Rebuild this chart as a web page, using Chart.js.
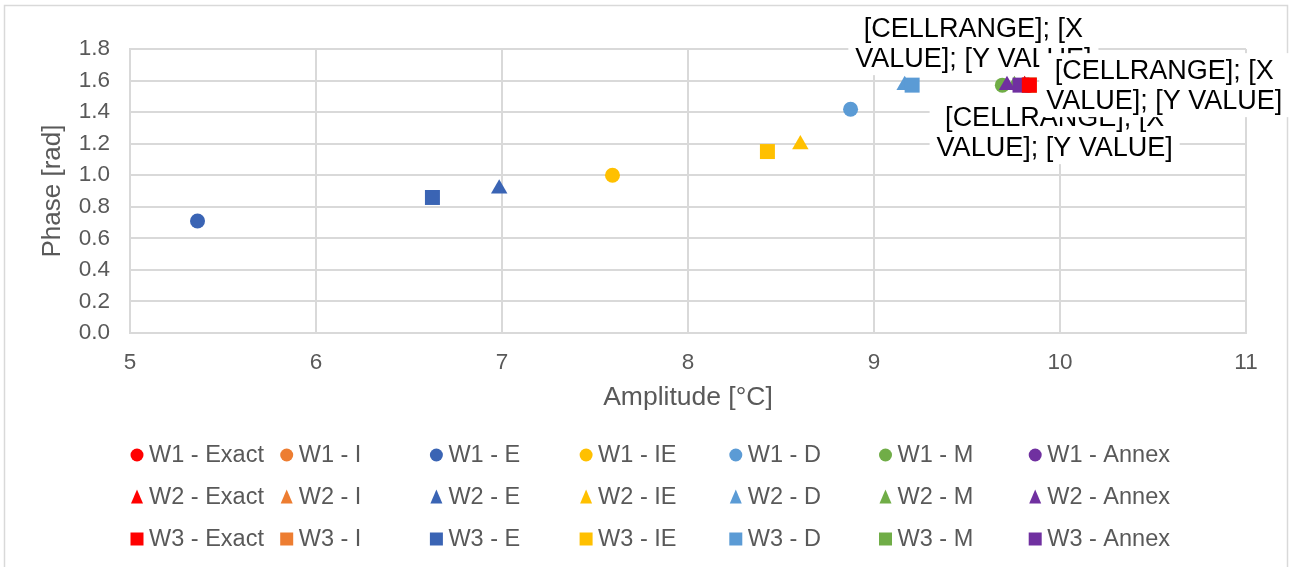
<!DOCTYPE html>
<html><head><meta charset="utf-8">
<script src="https://cdn.jsdelivr.net/npm/chart.js@4.4.1/dist/chart.umd.min.js"></script>
<style>html,body{margin:0;padding:0;background:#fff}canvas{display:block}</style>
</head><body>
<canvas id="c" width="1290" height="567"></canvas>
<script>
// ---- data ----
const seriesNames = [
  'W1 - Exact','W1 - I','W1 - E','W1 - IE','W1 - D','W1 - M','W1 - Annex',
  'W2 - Exact','W2 - I','W2 - E','W2 - IE','W2 - D','W2 - M','W2 - Annex',
  'W3 - Exact','W3 - I','W3 - E','W3 - IE','W3 - D','W3 - M','W3 - Annex'
];
const amplitudes = [
  9.83, 9.83, 5.363, 7.594, 8.874, 9.69, 9.83,
  9.81, 9.81, 6.985, 8.604, 9.165, 9.755, 9.715,
  9.835, 9.835, 6.626, 8.427, 9.205, 9.835, 9.785
];
const phases = [
  1.571, 1.571, 0.71, 1.0, 1.418, 1.571, 1.571,
  1.571, 1.571, 0.915, 1.195, 1.571, 1.571, 1.571,
  1.571, 1.571, 0.859, 1.150, 1.571, 1.571, 1.571
];
const xAxisTitle = 'Amplitude [°C]';
const yAxisTitle = 'Phase [rad]';
const labelLines = ['[CELLRANGE]; [X', 'VALUE]; [Y VALUE]'];
const labelledSeries = [0, 7, 14];
const hiddenUnderSeries = [1, 6, 8, 15, 19];
const topSeries = [14];

// ---- styles ----
const groupColors = ['#FF0000','#ED7D31','#3A64B4','#FFC000','#5B9BD5','#70AD47','#7030A0'];
const rowShapes = ['circle','triangle','rect'];
const shapeRadius = {circle: 7.5, triangle: 9.5, rect: 10.6};
const labelOffsets = [[-55,-42],[30,47],[135,0]]; // draw order: top, bottom, right
const TEXT = '#595959', GRID = '#D9D9D9', FONT = '"Liberation Sans", Arial, sans-serif';

const datasets = seriesNames.map((name, i) => {
  const shape = rowShapes[Math.floor(i / 7)];
  const col = groupColors[i % 7];
  return {
    label: name,
    data: [{x: amplitudes[i], y: phases[i]}],
    pointStyle: shape,
    pointRadius: shapeRadius[shape],
    pointHoverRadius: shapeRadius[shape],
    backgroundColor: col,
    borderColor: col,
    pointBorderWidth: 0,
    order: hiddenUnderSeries.includes(i) ? 200 : (topSeries.includes(i) ? 0 : 100 - i)
  };
});

const bgPlugin = {
  id: 'bg',
  beforeDraw(chart) {
    const ctx = chart.ctx;
    ctx.save();
    ctx.fillStyle = '#fff';
    ctx.fillRect(0, 0, chart.width, chart.height);
    ctx.strokeStyle = GRID;
    ctx.lineWidth = 1.5;
    ctx.strokeRect(4.5, 5.5, 1283, 600);
    ctx.restore();
  }
};

const labelPlugin = {
  id: 'cellLabels',
  afterDatasetsDraw(chart) {
    const ctx = chart.ctx;
    ctx.save();
    ctx.font = '27px ' + FONT;
    ctx.textAlign = 'center';
    ctx.textBaseline = 'middle';
    labelledSeries.forEach((di, k) => {
      const pt = chart.getDatasetMeta(di).data[0];
      const cx = pt.x + labelOffsets[k][0], cy = pt.y + labelOffsets[k][1];
      const w = Math.max(...labelLines.map(t => ctx.measureText(t).width)) + 14;
      const lh = 30, h = lh * labelLines.length + 4;
      ctx.fillStyle = '#fff';
      ctx.fillRect(cx - w / 2, cy - h / 2, w, h);
      ctx.fillStyle = '#000';
      labelLines.forEach((t, j) => {
        ctx.fillText(t, cx, cy + (j - (labelLines.length - 1) / 2) * lh + 1);
      });
    });
    ctx.restore();
  }
};

function drawShape(ctx, shape, x, y, s) {
  ctx.beginPath();
  if (shape === 'circle') {
    ctx.arc(x, y, s / 2, 0, Math.PI * 2);
  } else if (shape === 'triangle') {
    ctx.moveTo(x, y - s / 2 - 1);
    ctx.lineTo(x + s / 2 - 0.5, y + s / 2);
    ctx.lineTo(x - s / 2 + 0.5, y + s / 2);
    ctx.closePath();
  } else {
    ctx.rect(x - s / 2, y - s / 2, s, s);
  }
  ctx.fill();
}

const legendPlugin = {
  id: 'gridLegend',
  afterDraw(chart) {
    const ctx = chart.ctx;
    ctx.save();
    ctx.font = '23.5px ' + FONT;
    ctx.textBaseline = 'middle';
    ctx.textAlign = 'left';
    chart.data.datasets.forEach((ds, i) => {
      const row = Math.floor(i / 7), col = i % 7;
      const x = 137 + col * 149.7, y = 455 + row * 42;
      ctx.fillStyle = ds.backgroundColor;
      drawShape(ctx, ds.pointStyle, x, y, 13);
      ctx.fillStyle = TEXT;
      ctx.fillText(ds.label, x + 12, y + 1);
    });
    ctx.restore();
  }
};

new Chart(document.getElementById('c'), {
  type: 'scatter',
  data: { datasets },
  plugins: [bgPlugin, labelPlugin, legendPlugin],
  options: {
    responsive: false,
    animation: false,
    layout: { padding: { left: 33, right: 44, top: 49, bottom: 149 } },
    plugins: { legend: { display: false }, tooltip: { enabled: false } },
    scales: {
      x: {
        type: 'linear', min: 5, max: 11,
        afterFit(s) { s.height = 85; },
        ticks: { stepSize: 1, color: TEXT, font: { size: 22.5, family: FONT }, padding: 16 },
        grid: { color: GRID, lineWidth: 2, drawTicks: false },
        border: { color: GRID, width: 2 },
        title: { display: true, text: xAxisTitle, color: TEXT, font: { size: 26.5, family: FONT } }
      },
      y: {
        type: 'linear', min: 0, max: 1.8,
        afterFit(s) { s.width = 97; },
        ticks: { stepSize: 0.2, color: TEXT, font: { size: 22.5, family: FONT }, padding: 20,
                 callback: v => Number(v).toFixed(1) },
        grid: { color: GRID, lineWidth: 2, drawTicks: false },
        border: { color: GRID, width: 2 },
        title: { display: true, text: yAxisTitle, color: TEXT, font: { size: 26, family: FONT } }
      }
    }
  }
});
</script>
</body></html>
